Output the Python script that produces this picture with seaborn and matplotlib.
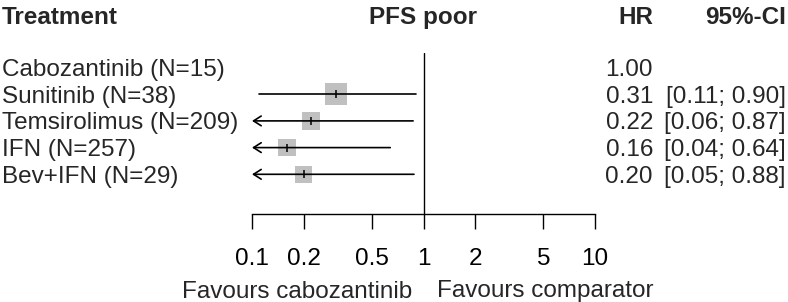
import numpy as np
import pandas as pd

import matplotlib
matplotlib.use('Agg')
import matplotlib.pyplot as plt
import matplotlib.transforms as mtransforms
from matplotlib.ticker import NullLocator
import seaborn as sns

sns.set_style('white')
plt.rcParams['font.family'] = ['Liberation Sans', 'DejaVu Sans']

# data
treatments = ['Cabozantinib (N=15)', 'Sunitinib (N=38)', 'Temsirolimus (N=209)',
              'IFN (N=257)', 'Bev+IFN (N=29)']
hr = [1.00, 0.31, 0.22, 0.16, 0.20]
ci_low = [np.nan, 0.11, 0.06, 0.04, 0.05]
ci_high = [np.nan, 0.90, 0.87, 0.64, 0.88]
x_ticks = [0.1, 0.2, 0.5, 1, 2, 5, 10]
x_tick_labels = ['0.1', '0.2', '0.5', '1', '2', '5', '10']

df = pd.DataFrame({'treatment': treatments, 'hr': hr, 'lo': ci_low, 'hi': ci_high})
df['row'] = np.arange(len(df))
# inverse-variance weights -> box size
se = (np.log(df['hi']) - np.log(df['lo'])) / (2 * 1.96)
df['w'] = 1 / se ** 2

W, H = 788, 302
fs = 17.5
fig = plt.figure(figsize=(W / 100, H / 100), dpi=100)
ax = fig.add_axes([252 / W, (H - 214) / H, 343 / W, (214 - 53) / H])
ax.set_xscale('log')
ax.set_xlim(0.1, 10)
ax.set_ylim(5.487, -0.543)

ci = df.dropna(subset=['lo'])
sns.scatterplot(data=ci, x='hr', y='row', size='w', sizes=(150, 251), marker='s',
                color='#c0c0c0', linewidth=0, legend=False, ax=ax, zorder=2, clip_on=False)
for _, r in ci.iterrows():
    if r['lo'] < 0.1:
        ax.annotate('', xy=(0.1, r['row']), xytext=(r['hi'], r['row']),
                    arrowprops=dict(arrowstyle='->,head_length=0.55,head_width=0.35',
                                    mutation_scale=10, lw=1.2, color='black',
                                    shrinkA=0, shrinkB=0), zorder=3, annotation_clip=False)
    else:
        ax.plot([r['lo'], r['hi']], [r['row'], r['row']], color='black', lw=1.2, zorder=3)
ax.scatter(ci['hr'], ci['row'], marker='|', s=36, color='black', linewidths=1.1, zorder=4)
ax.axvline(1, color='black', lw=1.0)

for s in ['top', 'right', 'left']:
    ax.spines[s].set_visible(False)
ax.spines['bottom'].set_linewidth(1.0)
ax.spines['bottom'].set_color('black')
ax.set_xticks(x_ticks)
ax.set_xticklabels(x_tick_labels)
ax.xaxis.set_minor_locator(NullLocator())
ax.set_yticks([])
ax.tick_params(axis='x', direction='out', length=10.8, width=1.0, pad=14,
               labelsize=fs, colors='black', bottom=True)
ax.set_xlabel('')
ax.set_ylabel('')

# text columns
trans = mtransforms.blended_transform_factory(fig.transFigure, ax.transData)
for _, r in df.iterrows():
    ax.text(2 / W, r['row'], r['treatment'], transform=trans, ha='left',
            va='center_baseline', fontsize=fs)
    ax.text(653 / W, r['row'], f"{r['hr']:.2f}", transform=trans, ha='right',
            va='center_baseline', fontsize=fs)
    if not np.isnan(r['lo']):
        ax.text(786 / W, r['row'], f"[{r['lo']:.2f}; {r['hi']:.2f}]", transform=trans,
                ha='right', va='center_baseline', fontsize=fs)

hy = 1 - 15 / H
fig.text(2 / W, hy, 'Treatment', ha='left', va='center_baseline', fontsize=fs, weight='bold')
fig.text(423 / W, hy, 'PFS poor', ha='center', va='center_baseline', fontsize=fs, weight='bold')
fig.text(653 / W, hy, 'HR', ha='right', va='center_baseline', fontsize=fs, weight='bold')
fig.text(786 / W, hy, '95%-CI', ha='right', va='center_baseline', fontsize=fs, weight='bold')

fy = 1 - 289 / H
fig.text(412 / W, fy, 'Favours cabozantinib', ha='right', va='center_baseline', fontsize=fs)
fig.text(437 / W, fy, 'Favours comparator', ha='left', va='center_baseline', fontsize=fs)

fig.savefig('out.png', dpi=100)
